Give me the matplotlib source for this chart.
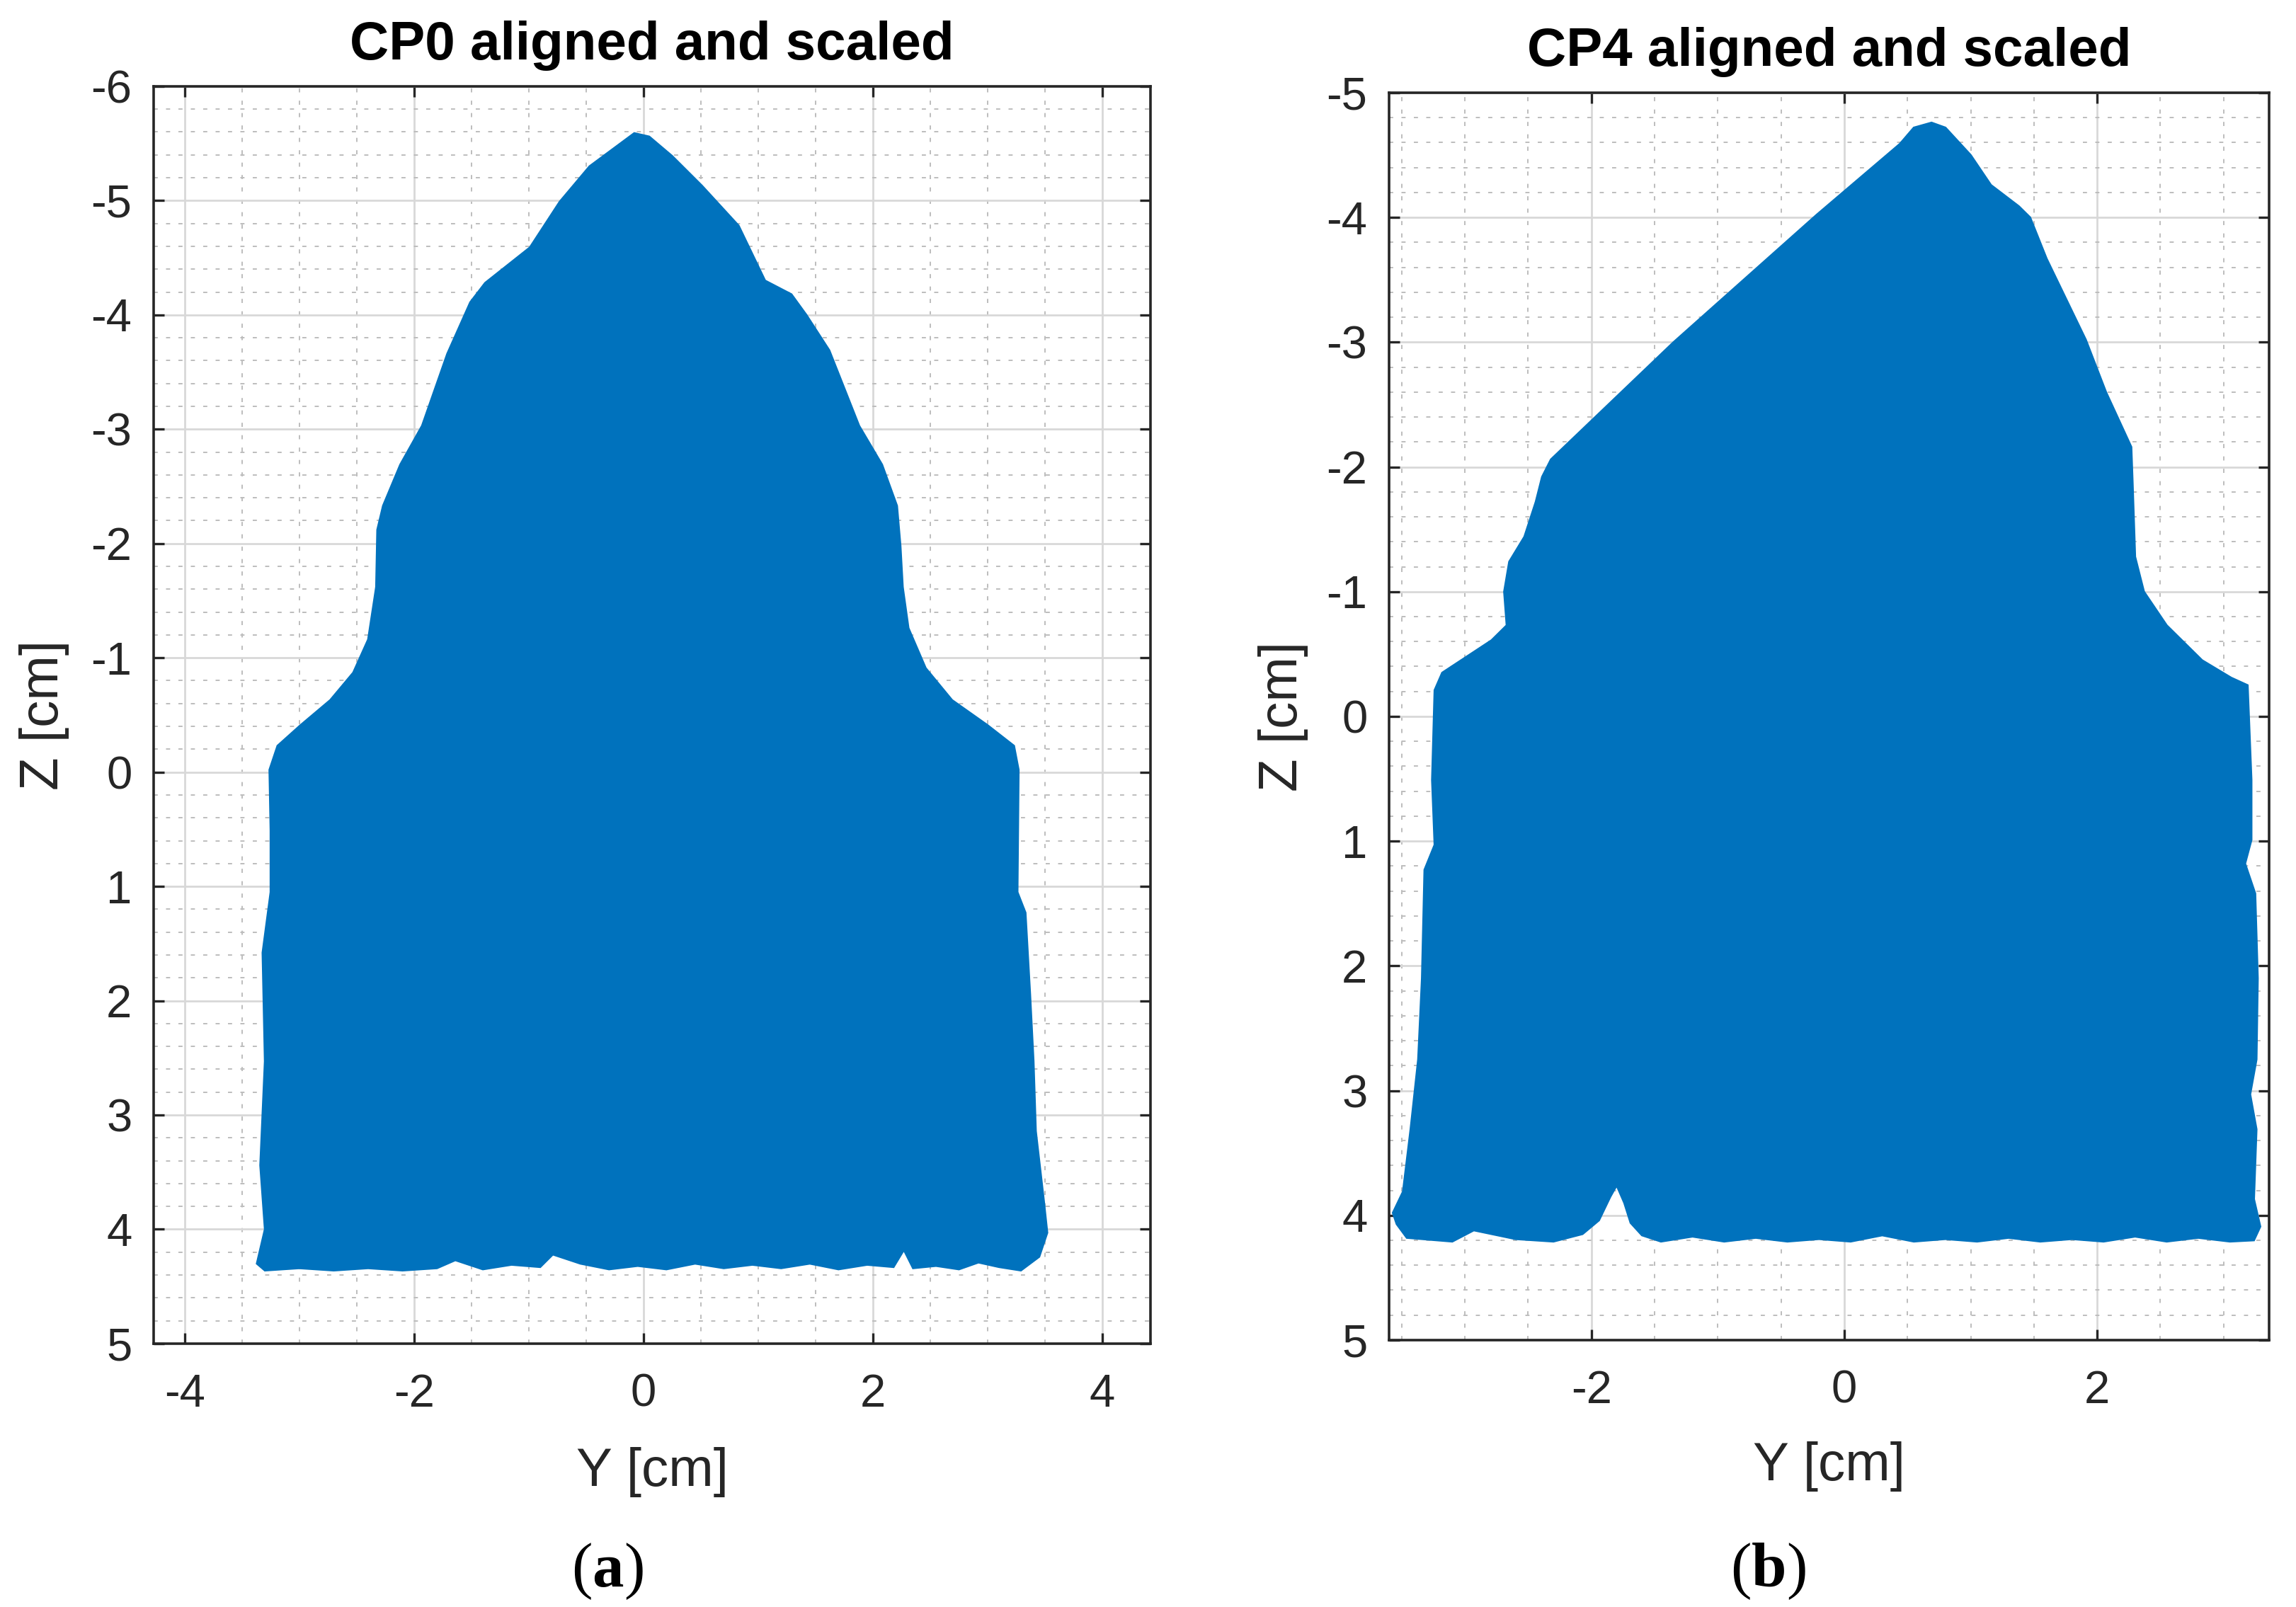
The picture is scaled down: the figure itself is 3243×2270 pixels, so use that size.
import matplotlib

matplotlib.use("Agg")
import matplotlib.pyplot as plt
from matplotlib.ticker import MultipleLocator


BLUE = "#0072BD"
AXIS_COLOR = "#262626"

# CP0 outline (Y, Z in cm)
CP0_Y = [
    -0.08, 0.05, 0.25, 0.51, 0.83, 1.06, 1.29, 1.42, 1.62, 1.88,
    2.08, 2.21, 2.24, 2.26, 2.31, 2.46, 2.69, 3.00, 3.23, 3.27,
    3.26, 3.33, 3.37, 3.40, 3.42, 3.49, 3.52, 3.45, 3.29,
    3.10, 2.92, 2.75, 2.55, 2.35, 2.27, 2.18, 1.95, 1.70, 1.45,
    1.20, 0.95, 0.70, 0.45, 0.20, -0.05, -0.30, -0.55, -0.79, -0.90,
    -1.15, -1.40, -1.64, -1.80, -2.10, -2.40, -2.70, -3.00, -3.30,
    -3.37, -3.30, -3.34, -3.30, -3.32, -3.25, -3.25, -3.26, -3.19, -2.99,
    -2.73, -2.53, -2.40, -2.33, -2.32, -2.27, -2.12, -1.93, -1.71, -1.51,
    -1.38, -0.99, -0.73, -0.47,
]
CP0_Z = [
    -5.59, -5.56, -5.39, -5.13, -4.78, -4.30, -4.18, -4.00, -3.69, -3.03,
    -2.69, -2.33, -1.98, -1.62, -1.26, -0.91, -0.63, -0.41, -0.23, -0.02,
    1.05, 1.23, 1.94, 2.53, 3.14, 3.75, 4.03, 4.24, 4.36,
    4.33, 4.29, 4.35, 4.32, 4.34, 4.18, 4.33, 4.31, 4.35, 4.30,
    4.34, 4.31, 4.34, 4.30, 4.35, 4.32, 4.35, 4.30, 4.22, 4.33,
    4.31, 4.35, 4.27, 4.34, 4.36, 4.34, 4.36, 4.34, 4.36,
    4.30, 4.00, 3.44, 2.53, 1.58, 1.05, 0.51, -0.02, -0.23, -0.41,
    -0.63, -0.87, -1.16, -1.62, -2.12, -2.33, -2.69, -3.03, -3.66, -4.11,
    -4.28, -4.59, -4.99, -5.30,
]

# CP4 outline (Y, Z in cm)
CP4_Y = [
    0.69, 0.80, 1.00, 1.16, 1.38, 1.47, 1.60, 1.91, 2.07, 2.27,
    2.28, 2.30, 2.37, 2.55, 2.83, 3.06, 3.19, 3.22, 3.22, 3.17,
    3.25, 3.27, 3.26, 3.21, 3.26, 3.24, 3.29, 3.24,
    3.05, 2.80, 2.55, 2.30, 2.05, 1.80, 1.55, 1.30, 1.05, 0.80,
    0.55, 0.30, 0.05, -0.20, -0.45, -0.70, -0.95, -1.20, -1.45, -1.60,
    -1.69, -1.74, -1.80, -1.85, -1.94, -2.07, -2.30, -2.60, -2.93, -3.10,
    -3.46, -3.54, -3.57, -3.49, -3.43, -3.37, -3.34, -3.32, -3.24, -3.26,
    -3.24, -3.18, -2.97, -2.79, -2.67, -2.69, -2.65, -2.53, -2.44, -2.39,
    -2.32, -1.35, -0.22, 0.44, 0.55,
]
CP4_Z = [
    -4.76, -4.72, -4.50, -4.26, -4.09, -4.00, -3.67, -3.02, -2.60, -2.16,
    -1.88, -1.28, -1.00, -0.73, -0.45, -0.31, -0.25, 0.51, 0.99, 1.18,
    1.42, 2.10, 2.75, 3.03, 3.31, 3.87, 4.09, 4.20,
    4.21, 4.18, 4.21, 4.17, 4.21, 4.19, 4.21, 4.18, 4.21, 4.19,
    4.21, 4.16, 4.21, 4.19, 4.21, 4.18, 4.21, 4.17, 4.21, 4.16,
    4.06, 3.90, 3.76, 3.85, 4.04, 4.15, 4.21, 4.19, 4.12, 4.21,
    4.18, 4.07, 3.98, 3.81, 3.31, 2.75, 2.10, 1.23, 1.03, 0.51,
    -0.21, -0.35, -0.49, -0.61, -0.73, -1.00, -1.24, -1.44, -1.72, -1.92,
    -2.06, -3.00, -4.02, -4.59, -4.72,
]

TITLES = ["CP0 aligned and scaled", "CP4 aligned and scaled"]
CAPTIONS = ["a", "b"]
X_LIMITS = [(-4.27, 4.42), (-3.60, 3.36)]
Z_LIMITS = [(5, -6), (5, -5)]
X_TICKS = [[-4, -2, 0, 2, 4], [-2, 0, 2]]
Z_TICKS = [list(range(-6, 6)), list(range(-5, 6))]


def style_axes(ax, xlim, zlim, xticks, zticks):
    ax.set_xlim(*xlim)
    ax.set_ylim(*zlim)
    ax.set_xticks(xticks)
    ax.set_yticks(zticks)
    ax.xaxis.set_minor_locator(MultipleLocator(0.5))
    ax.yaxis.set_minor_locator(MultipleLocator(0.2))
    ax.set_axisbelow(True)
    ax.grid(which="major", color="#d8d8d8", linewidth=2.0)
    ax.grid(which="minor", color="#bdbdbd", linewidth=1.4,
            linestyle=(0, (3.0, 6.0)))
    ax.tick_params(which="major", direction="in", top=True, right=True,
                   length=11, width=2.4, color=AXIS_COLOR,
                   labelcolor=AXIS_COLOR, labelsize=47)
    ax.tick_params(axis="x", which="major", pad=30)
    ax.tick_params(axis="y", which="major", pad=22)
    ax.tick_params(which="minor", length=0)
    for spine in ax.spines.values():
        spine.set_color(AXIS_COLOR)
        spine.set_linewidth(2.6)


def main():
    plt.rcParams["font.family"] = ["Liberation Sans", "DejaVu Sans"]
    plt.rcParams["axes.unicode_minus"] = False
    plt.rcParams["mathtext.fontset"] = "custom"
    plt.rcParams["mathtext.bf"] = "Liberation Serif:bold"
    plt.rcParams["mathtext.rm"] = "Liberation Serif"

    fig = plt.figure(figsize=(32.43, 22.70), dpi=100)
    axes = [
        fig.add_axes([0.0669, 0.1639, 0.4342, 0.7824]),
        fig.add_axes([0.6050, 0.1661, 0.3833, 0.7762]),
    ]
    shapes = [(CP0_Y, CP0_Z), (CP4_Y, CP4_Z)]

    for i, ax in enumerate(axes):
        y_values, z_values = shapes[i]
        ax.fill(y_values, z_values, color=BLUE, edgecolor=BLUE,
                linewidth=2.0, zorder=3)
        style_axes(ax, X_LIMITS[i], Z_LIMITS[i], X_TICKS[i], Z_TICKS[i])
        ax.set_title(TITLES[i], fontsize=55, fontweight="bold",
                     color="black", pad=27)
        ax.set_xlabel("Y [cm]", fontsize=55, color=AXIS_COLOR, va="center")
        ax.set_ylabel("Z [cm]", fontsize=55, color=AXIS_COLOR, va="center")

    axes[0].xaxis.set_label_coords(0.5, -0.1025)
    axes[0].yaxis.set_label_coords(-0.110, 0.5)
    axes[1].xaxis.set_label_coords(0.5, -0.1016)
    axes[1].yaxis.set_label_coords(-0.120, 0.5)

    caption_x = [858 / 3243, 2497 / 3243]
    for x, letter in zip(caption_x, CAPTIONS):
        fig.text(x, 1 - 2220 / 2270, "(" + r"$\mathbf{" + letter + "}$" + ")",
                 fontsize=64, family="Liberation Serif", color="black",
                 ha="center", va="center")

    fig.savefig("out.png", dpi=100, facecolor="white")
    plt.close(fig)


if __name__ == "__main__":
    main()
